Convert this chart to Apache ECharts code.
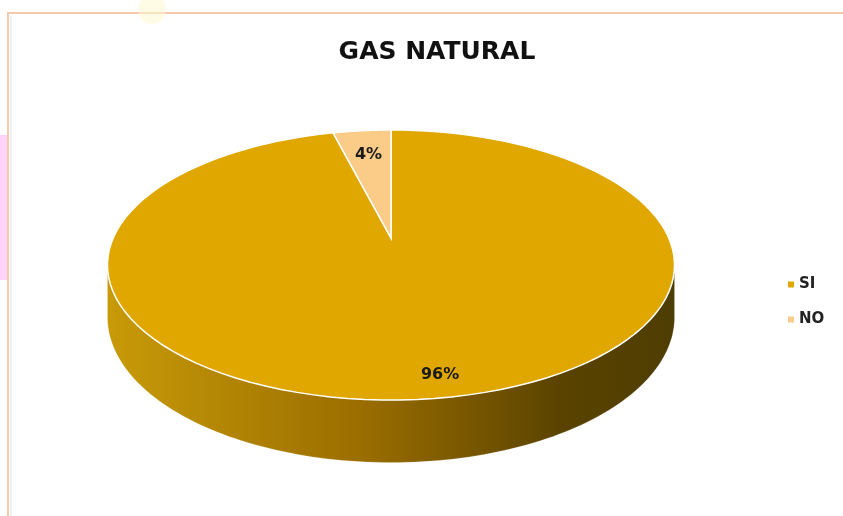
<!DOCTYPE html>
<html>
<head>
<meta charset="utf-8">
<title>GAS NATURAL</title>
<script src="https://cdn.jsdelivr.net/npm/echarts@6/dist/echarts.min.js"></script>
<style>
  html, body { margin: 0; padding: 0; background: #fff; }
  #main { width: 843px; height: 516px; }
</style>
</head>
<body>
<div id="main"></div>
<script>
// datos
var categorias = ['SI', 'NO'];
var valores = [96, 4];
var colores = ['#dfa700', '#fbcb88'];

var total = valores.reduce(function (a, b) { return a + b; }, 0);

// torta 3D en perspectiva (no hay echarts-gl)
var CX = 391, CY = 238;     // centro de la cara superior
var RX = 277.8, RY = 129.6; // radios
var K = 0.2;                // perspectiva
var ALTO = 50;              // grosor
var labelDist = [0.88, 0.74];
var labelDx = [12, 0];

function punto(theta, f, caida) {
    var w = 1 + K * f * Math.cos(theta);
    return [
        CX - f * RX * Math.sin(theta) / w,
        CY - f * RY * Math.cos(theta) / w + (caida || 0) / w
    ];
}

function renderSlice(params, api) {
    var idx = params.seriesIndex;
    var valor = api.value(0);
    // angulo desde las 12, antihorario: NO queda a la izquierda de las 12
    var ini, fin;
    if (idx === 0) { ini = (total - valor) / total * Math.PI * 2; fin = Math.PI * 2; }
    else { ini = 0; fin = valor / total * Math.PI * 2; }

    var hijos = [];
    var pasos = 120;

    // pared lateral (solo frente)
    var vis0 = Math.acos(-K), vis1 = Math.PI * 2 - Math.acos(-K);
    var s0 = Math.max(ini, vis0), s1 = Math.min(fin, vis1);
    if (s1 > s0) {
        var lado = [], abajo = [];
        for (var j = 0; j <= pasos; j++) {
            var t = s0 + (s1 - s0) * j / pasos;
            lado.push(punto(t, 1, 0));
            abajo.push(punto(t, 1, ALTO));
        }
        hijos.push({
            type: 'polygon',
            shape: { points: lado.concat(abajo.reverse()) },
            style: {
                fill: {
                    type: 'linear', global: true,
                    x: CX - RX * 1.02, y: 0, x2: CX + RX * 1.02, y2: 0,
                    colorStops: [
                        { offset: 0, color: '#c89a08' },
                        { offset: 0.45, color: '#9a6d00' },
                        { offset: 0.8, color: '#5a4300' },
                        { offset: 1, color: '#4e3d02' }
                    ]
                },
                stroke: 'rgba(255,255,255,0.35)',
                lineWidth: 0.5
            }
        });
    }

    // cara superior
    var cara = [punto(0, 0)];
    for (var m = 0; m <= pasos; m++) {
        cara.push(punto(ini + (fin - ini) * m / pasos, 1, 0));
    }
    hijos.push({
        type: 'polygon',
        shape: { points: cara },
        style: { fill: colores[idx], stroke: '#ffffff', lineWidth: 1.5 }
    });

    // etiqueta
    var media = (ini + fin) / 2;
    var p = punto(media, labelDist[idx], 0);
    hijos.push({
        type: 'text',
        x: p[0] + labelDx[idx], y: p[1],
        style: {
            text: Math.round(valor / total * 100) + '%',
            fill: '#1a1a1a',
            font: 'bold 16px "DejaVu Sans", sans-serif',
            align: 'center',
            verticalAlign: 'middle'
        }
    });

    return { type: 'group', children: hijos };
}

var dom = document.getElementById('main');
var myChart = echarts.init(dom);
var option = {
    backgroundColor: '#ffffff',
    animation: false,
    title: {
        text: 'GAS NATURAL',
        left: 432,
        top: 35,
        textAlign: 'center',
        textStyle: {
            fontFamily: '"DejaVu Sans", sans-serif',
            fontWeight: 'bold',
            fontSize: 25,
            color: '#111111'
        }
    },
    legend: {
        orient: 'vertical',
        left: 783,
        top: 272,
        itemWidth: 6,
        itemHeight: 6,
        itemGap: 20,
        icon: 'rect',
        data: categorias,
        textStyle: {
            fontFamily: '"DejaVu Sans", sans-serif',
            fontWeight: 'bold',
            fontSize: 15,
            color: '#222222'
        }
    },
    graphic: [
        { type: 'rect', z: -1, shape: { x: 0, y: 135, width: 8, height: 145 }, style: { fill: '#fdd3fb' } },
        { type: 'rect', z: -1, shape: { x: 8, y: 13, width: 840, height: 510 }, style: { fill: 'none', stroke: '#f6c9ae', lineWidth: 2 } },
        { type: 'line', z: -1, shape: { x1: 11, y1: 16, x2: 11, y2: 516 }, style: { stroke: '#e4e4e4', lineWidth: 1 } },
        { type: 'circle', z: -1, shape: { cx: 152, cy: 10, r: 14 }, style: { fill: 'rgba(255,250,205,0.5)' } }
    ],
    series: categorias.map(function (nombre, i) {
        return {
            name: nombre,
            type: 'custom',
            coordinateSystem: 'none',
            itemStyle: { color: colores[i] },
            renderItem: renderSlice,
            data: [[valores[i]]]
        };
    })
};
if (option && typeof option === "object") {
    myChart.setOption(option, true);
}
</script>
</body>
</html>
